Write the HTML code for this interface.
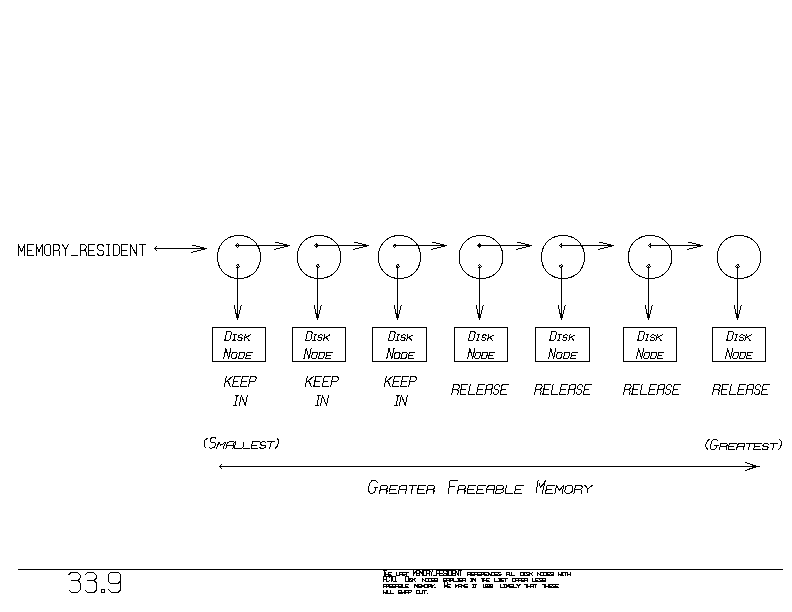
<!DOCTYPE html>
<html><head><meta charset="utf-8"><style>
html,body{margin:0;padding:0;background:#fff;width:792px;height:612px;overflow:hidden}
svg{display:block}
</style></head><body>
<svg width="792" height="612" viewBox="0 0 792 612">
<g fill="none" stroke="#000" stroke-width="1" stroke-linecap="square" stroke-linejoin="bevel" shape-rendering="crispEdges">
<path d="M18.00 569.50 L782.00 569.50"/>
<path d="M18.50 255.50 L18.50 244.50 L21.50 251.65 L24.50 244.50 L24.50 255.50"/>
<path d="M33.29 244.50 L27.29 244.50 L27.29 255.50 L33.29 255.50"/>
<path d="M27.29 250.00 L31.79 250.00"/>
<path d="M36.07 255.50 L36.07 244.50 L39.07 251.65 L42.07 244.50 L42.07 255.50"/>
<path d="M46.36 255.50 L49.36 255.50 L50.86 253.85 L50.86 246.15 L49.36 244.50 L46.36 244.50 L44.86 246.15 L44.86 253.85 L46.36 255.50"/>
<path d="M53.64 255.50 L53.64 244.50 L58.14 244.50 L59.64 246.15 L59.64 248.35 L58.14 250.00 L53.64 250.00"/>
<path d="M58.14 250.00 L59.64 251.65 L59.64 255.50"/>
<path d="M62.43 244.50 L65.43 249.45 L68.43 244.50"/>
<path d="M65.43 249.45 L65.43 255.50"/>
<path d="M71.21 255.50 L77.21 255.50"/>
<path d="M80.00 255.50 L80.00 244.50 L84.50 244.50 L86.00 246.15 L86.00 248.35 L84.50 250.00 L80.00 250.00"/>
<path d="M84.50 250.00 L86.00 251.65 L86.00 255.50"/>
<path d="M94.79 244.50 L88.79 244.50 L88.79 255.50 L94.79 255.50"/>
<path d="M88.79 250.00 L93.29 250.00"/>
<path d="M103.57 246.15 L102.07 244.50 L99.07 244.50 L97.57 246.15 L97.57 248.35 L99.07 250.00 L102.07 250.00 L103.57 251.65 L103.57 253.85 L102.07 255.50 L99.07 255.50 L97.57 253.85"/>
<path d="M106.86 244.50 L109.86 244.50"/>
<path d="M108.36 244.50 L108.36 255.50"/>
<path d="M106.86 255.50 L109.86 255.50"/>
<path d="M113.14 255.50 L113.14 244.50 L117.64 244.50 L119.14 246.15 L119.14 253.85 L117.64 255.50 L113.14 255.50"/>
<path d="M127.93 244.50 L121.93 244.50 L121.93 255.50 L127.93 255.50"/>
<path d="M121.93 250.00 L126.43 250.00"/>
<path d="M130.71 255.50 L130.71 244.50 L136.71 255.50 L136.71 244.50"/>
<path d="M139.50 244.50 L145.50 244.50"/>
<path d="M142.50 244.50 L142.50 255.50"/>
<rect x="155" y="248" width="52" height="1" fill="#000" stroke="none"/>
<path d="M157.00 246.00 L154.50 248.50 L157.00 251.00"/>
<rect x="192" y="245" width="4" height="1" fill="#000" stroke="none"/>
<rect x="196" y="246" width="4" height="1" fill="#000" stroke="none"/>
<rect x="200" y="247" width="4" height="1" fill="#000" stroke="none"/>
<rect x="201" y="249" width="4" height="1" fill="#000" stroke="none"/>
<rect x="197" y="250" width="4" height="1" fill="#000" stroke="none"/>
<rect x="193" y="251" width="4" height="1" fill="#000" stroke="none"/>
<rect x="191" y="252" width="2" height="1" fill="#000" stroke="none"/>
<path d="M260.50 257.00 L260.46 258.60 L260.32 260.09 L260.11 261.53 L259.80 262.93 L259.41 264.29 L258.94 265.61 L258.38 266.89 L257.75 268.11 L257.03 269.28 L256.25 270.40 L255.39 271.46 L254.46 272.46 L253.46 273.39 L252.40 274.25 L251.28 275.03 L250.11 275.75 L248.89 276.38 L247.61 276.94 L246.29 277.41 L244.93 277.80 L243.53 278.11 L242.09 278.32 L240.60 278.46 L239.00 278.50 L237.40 278.46 L235.91 278.32 L234.47 278.11 L233.07 277.80 L231.71 277.41 L230.39 276.94 L229.11 276.38 L227.89 275.75 L226.72 275.03 L225.60 274.25 L224.54 273.39 L223.54 272.46 L222.61 271.46 L221.75 270.40 L220.97 269.28 L220.25 268.11 L219.62 266.89 L219.06 265.61 L218.59 264.29 L218.20 262.93 L217.89 261.53 L217.68 260.09 L217.54 258.60 L217.50 257.00 L217.54 255.40 L217.68 253.91 L217.89 252.47 L218.20 251.07 L218.59 249.71 L219.06 248.39 L219.62 247.11 L220.25 245.89 L220.97 244.72 L221.75 243.60 L222.61 242.54 L223.54 241.54 L224.54 240.61 L225.60 239.75 L226.72 238.97 L227.89 238.25 L229.11 237.62 L230.39 237.06 L231.71 236.59 L233.07 236.20 L234.47 235.89 L235.91 235.68 L237.40 235.54 L239.00 235.50 L240.60 235.54 L242.09 235.68 L243.53 235.89 L244.93 236.20 L246.29 236.59 L247.61 237.06 L248.89 237.62 L250.11 238.25 L251.28 238.97 L252.40 239.75 L253.46 240.61 L254.46 241.54 L255.39 242.54 L256.25 243.60 L257.03 244.72 L257.75 245.89 L258.38 247.11 L258.94 248.39 L259.41 249.71 L259.80 251.07 L260.11 252.47 L260.32 253.91 L260.46 255.40Z"/>
<rect x="237" y="243" width="1" height="1" fill="#000" stroke="none"/>
<rect x="236" y="244" width="1" height="1" fill="#000" stroke="none"/>
<rect x="238" y="244" width="1" height="1" fill="#000" stroke="none"/>
<rect x="235" y="245" width="1" height="1" fill="#000" stroke="none"/>
<rect x="236" y="245" width="1" height="1" fill="#000" stroke="none"/>
<rect x="237" y="245" width="1" height="1" fill="#000" stroke="none"/>
<rect x="236" y="246" width="1" height="1" fill="#000" stroke="none"/>
<rect x="238" y="246" width="1" height="1" fill="#000" stroke="none"/>
<rect x="237" y="247" width="1" height="1" fill="#000" stroke="none"/>
<rect x="237" y="245" width="53" height="1" fill="#000" stroke="none"/>
<rect x="275" y="242" width="4" height="1" fill="#000" stroke="none"/>
<rect x="279" y="243" width="4" height="1" fill="#000" stroke="none"/>
<rect x="283" y="244" width="4" height="1" fill="#000" stroke="none"/>
<rect x="284" y="246" width="4" height="1" fill="#000" stroke="none"/>
<rect x="280" y="247" width="4" height="1" fill="#000" stroke="none"/>
<rect x="276" y="248" width="4" height="1" fill="#000" stroke="none"/>
<rect x="274" y="249" width="2" height="1" fill="#000" stroke="none"/>
<rect x="237" y="264" width="1" height="1" fill="#000" stroke="none"/>
<rect x="238" y="264" width="1" height="1" fill="#000" stroke="none"/>
<rect x="236" y="265" width="1" height="1" fill="#000" stroke="none"/>
<rect x="238" y="265" width="1" height="1" fill="#000" stroke="none"/>
<rect x="237" y="266" width="1" height="1" fill="#000" stroke="none"/>
<rect x="239" y="266" width="1" height="1" fill="#000" stroke="none"/>
<rect x="236" y="267" width="1" height="1" fill="#000" stroke="none"/>
<rect x="237" y="267" width="1" height="1" fill="#000" stroke="none"/>
<rect x="238" y="267" width="1" height="1" fill="#000" stroke="none"/>
<rect x="237" y="268" width="1" height="52" fill="#000" stroke="none"/>
<rect x="234" y="305" width="1" height="4" fill="#000" stroke="none"/>
<rect x="235" y="309" width="1" height="5" fill="#000" stroke="none"/>
<rect x="236" y="313" width="1" height="5" fill="#000" stroke="none"/>
<rect x="241" y="305" width="1" height="1" fill="#000" stroke="none"/>
<rect x="240" y="306" width="1" height="4" fill="#000" stroke="none"/>
<rect x="239" y="310" width="1" height="4" fill="#000" stroke="none"/>
<rect x="238" y="314" width="1" height="4" fill="#000" stroke="none"/>
<path d="M340.80 257.00 L340.76 258.60 L340.62 260.09 L340.40 261.53 L340.09 262.93 L339.70 264.29 L339.22 265.61 L338.66 266.89 L338.02 268.11 L337.29 269.28 L336.50 270.40 L335.63 271.46 L334.69 272.46 L333.68 273.39 L332.61 274.25 L331.48 275.03 L330.29 275.75 L329.05 276.38 L327.76 276.94 L326.43 277.41 L325.05 277.80 L323.64 278.11 L322.18 278.32 L320.67 278.46 L319.05 278.50 L317.43 278.46 L315.92 278.32 L314.46 278.11 L313.05 277.80 L311.67 277.41 L310.34 276.94 L309.05 276.38 L307.81 275.75 L306.62 275.03 L305.49 274.25 L304.42 273.39 L303.41 272.46 L302.47 271.46 L301.60 270.40 L300.81 269.28 L300.08 268.11 L299.44 266.89 L298.88 265.61 L298.40 264.29 L298.01 262.93 L297.70 261.53 L297.48 260.09 L297.34 258.60 L297.30 257.00 L297.34 255.40 L297.48 253.91 L297.70 252.47 L298.01 251.07 L298.40 249.71 L298.88 248.39 L299.44 247.11 L300.08 245.89 L300.81 244.72 L301.60 243.60 L302.47 242.54 L303.41 241.54 L304.42 240.61 L305.49 239.75 L306.62 238.97 L307.81 238.25 L309.05 237.62 L310.34 237.06 L311.67 236.59 L313.05 236.20 L314.46 235.89 L315.92 235.68 L317.43 235.54 L319.05 235.50 L320.67 235.54 L322.18 235.68 L323.64 235.89 L325.05 236.20 L326.43 236.59 L327.76 237.06 L329.05 237.62 L330.29 238.25 L331.48 238.97 L332.61 239.75 L333.68 240.61 L334.69 241.54 L335.63 242.54 L336.50 243.60 L337.29 244.72 L338.02 245.89 L338.66 247.11 L339.22 248.39 L339.70 249.71 L340.09 251.07 L340.40 252.47 L340.62 253.91 L340.76 255.40Z"/>
<rect x="316" y="243" width="1" height="1" fill="#000" stroke="none"/>
<rect x="315" y="244" width="1" height="1" fill="#000" stroke="none"/>
<rect x="316" y="244" width="1" height="1" fill="#000" stroke="none"/>
<rect x="317" y="244" width="1" height="1" fill="#000" stroke="none"/>
<rect x="314" y="245" width="1" height="1" fill="#000" stroke="none"/>
<rect x="316" y="245" width="1" height="1" fill="#000" stroke="none"/>
<rect x="315" y="246" width="1" height="1" fill="#000" stroke="none"/>
<rect x="316" y="246" width="1" height="1" fill="#000" stroke="none"/>
<rect x="317" y="246" width="1" height="1" fill="#000" stroke="none"/>
<rect x="316" y="247" width="1" height="1" fill="#000" stroke="none"/>
<rect x="316" y="245" width="53" height="1" fill="#000" stroke="none"/>
<rect x="354" y="242" width="4" height="1" fill="#000" stroke="none"/>
<rect x="358" y="243" width="4" height="1" fill="#000" stroke="none"/>
<rect x="362" y="244" width="4" height="1" fill="#000" stroke="none"/>
<rect x="363" y="246" width="4" height="1" fill="#000" stroke="none"/>
<rect x="359" y="247" width="4" height="1" fill="#000" stroke="none"/>
<rect x="355" y="248" width="4" height="1" fill="#000" stroke="none"/>
<rect x="353" y="249" width="2" height="1" fill="#000" stroke="none"/>
<rect x="317" y="264" width="1" height="1" fill="#000" stroke="none"/>
<rect x="318" y="264" width="1" height="1" fill="#000" stroke="none"/>
<rect x="316" y="265" width="1" height="1" fill="#000" stroke="none"/>
<rect x="318" y="265" width="1" height="1" fill="#000" stroke="none"/>
<rect x="316" y="266" width="1" height="1" fill="#000" stroke="none"/>
<rect x="317" y="266" width="1" height="1" fill="#000" stroke="none"/>
<rect x="319" y="266" width="1" height="1" fill="#000" stroke="none"/>
<rect x="317" y="267" width="1" height="1" fill="#000" stroke="none"/>
<rect x="318" y="267" width="1" height="1" fill="#000" stroke="none"/>
<rect x="317" y="268" width="1" height="52" fill="#000" stroke="none"/>
<rect x="314" y="305" width="1" height="4" fill="#000" stroke="none"/>
<rect x="315" y="309" width="1" height="5" fill="#000" stroke="none"/>
<rect x="316" y="313" width="1" height="5" fill="#000" stroke="none"/>
<rect x="321" y="305" width="1" height="1" fill="#000" stroke="none"/>
<rect x="320" y="306" width="1" height="4" fill="#000" stroke="none"/>
<rect x="319" y="310" width="1" height="4" fill="#000" stroke="none"/>
<rect x="318" y="314" width="1" height="4" fill="#000" stroke="none"/>
<path d="M420.50 257.00 L420.46 258.60 L420.33 260.09 L420.11 261.53 L419.82 262.93 L419.43 264.29 L418.97 265.61 L418.43 266.89 L417.81 268.11 L417.11 269.28 L416.34 270.40 L415.49 271.46 L414.58 272.46 L413.61 273.39 L412.57 274.25 L411.48 275.03 L410.33 275.75 L409.13 276.38 L407.88 276.94 L406.59 277.41 L405.26 277.80 L403.89 278.11 L402.48 278.32 L401.02 278.46 L399.45 278.50 L397.88 278.46 L396.42 278.32 L395.01 278.11 L393.64 277.80 L392.31 277.41 L391.02 276.94 L389.77 276.38 L388.57 275.75 L387.42 275.03 L386.33 274.25 L385.29 273.39 L384.32 272.46 L383.41 271.46 L382.56 270.40 L381.79 269.28 L381.09 268.11 L380.47 266.89 L379.93 265.61 L379.47 264.29 L379.08 262.93 L378.79 261.53 L378.57 260.09 L378.44 258.60 L378.40 257.00 L378.44 255.40 L378.57 253.91 L378.79 252.47 L379.08 251.07 L379.47 249.71 L379.93 248.39 L380.47 247.11 L381.09 245.89 L381.79 244.72 L382.56 243.60 L383.41 242.54 L384.32 241.54 L385.29 240.61 L386.33 239.75 L387.42 238.97 L388.57 238.25 L389.77 237.62 L391.02 237.06 L392.31 236.59 L393.64 236.20 L395.01 235.89 L396.42 235.68 L397.88 235.54 L399.45 235.50 L401.02 235.54 L402.48 235.68 L403.89 235.89 L405.26 236.20 L406.59 236.59 L407.88 237.06 L409.13 237.62 L410.33 238.25 L411.48 238.97 L412.57 239.75 L413.61 240.61 L414.58 241.54 L415.49 242.54 L416.34 243.60 L417.11 244.72 L417.81 245.89 L418.43 247.11 L418.97 248.39 L419.43 249.71 L419.82 251.07 L420.11 252.47 L420.33 253.91 L420.46 255.40Z"/>
<rect x="394" y="244" width="1" height="1" fill="#000" stroke="none"/>
<rect x="395" y="244" width="1" height="1" fill="#000" stroke="none"/>
<rect x="393" y="245" width="1" height="1" fill="#000" stroke="none"/>
<rect x="394" y="245" width="1" height="1" fill="#000" stroke="none"/>
<rect x="393" y="246" width="1" height="1" fill="#000" stroke="none"/>
<rect x="395" y="246" width="1" height="1" fill="#000" stroke="none"/>
<rect x="394" y="247" width="1" height="1" fill="#000" stroke="none"/>
<rect x="394" y="245" width="53" height="1" fill="#000" stroke="none"/>
<rect x="432" y="242" width="4" height="1" fill="#000" stroke="none"/>
<rect x="436" y="243" width="4" height="1" fill="#000" stroke="none"/>
<rect x="440" y="244" width="4" height="1" fill="#000" stroke="none"/>
<rect x="441" y="246" width="4" height="1" fill="#000" stroke="none"/>
<rect x="437" y="247" width="4" height="1" fill="#000" stroke="none"/>
<rect x="433" y="248" width="4" height="1" fill="#000" stroke="none"/>
<rect x="431" y="249" width="2" height="1" fill="#000" stroke="none"/>
<rect x="397" y="264" width="1" height="1" fill="#000" stroke="none"/>
<rect x="398" y="264" width="1" height="1" fill="#000" stroke="none"/>
<rect x="396" y="265" width="1" height="1" fill="#000" stroke="none"/>
<rect x="398" y="265" width="1" height="1" fill="#000" stroke="none"/>
<rect x="396" y="266" width="1" height="1" fill="#000" stroke="none"/>
<rect x="397" y="266" width="1" height="1" fill="#000" stroke="none"/>
<rect x="399" y="266" width="1" height="1" fill="#000" stroke="none"/>
<rect x="396" y="267" width="1" height="1" fill="#000" stroke="none"/>
<rect x="397" y="267" width="1" height="1" fill="#000" stroke="none"/>
<rect x="398" y="267" width="1" height="1" fill="#000" stroke="none"/>
<rect x="397" y="268" width="1" height="52" fill="#000" stroke="none"/>
<rect x="394" y="305" width="1" height="4" fill="#000" stroke="none"/>
<rect x="395" y="309" width="1" height="5" fill="#000" stroke="none"/>
<rect x="396" y="313" width="1" height="5" fill="#000" stroke="none"/>
<rect x="401" y="305" width="1" height="1" fill="#000" stroke="none"/>
<rect x="400" y="306" width="1" height="4" fill="#000" stroke="none"/>
<rect x="399" y="310" width="1" height="4" fill="#000" stroke="none"/>
<rect x="398" y="314" width="1" height="4" fill="#000" stroke="none"/>
<path d="M502.90 257.00 L502.86 258.60 L502.72 260.09 L502.50 261.53 L502.19 262.93 L501.79 264.29 L501.31 265.61 L500.74 266.89 L500.10 268.11 L499.37 269.28 L498.57 270.40 L497.69 271.46 L496.74 272.46 L495.73 273.39 L494.65 274.25 L493.51 275.03 L492.32 275.75 L491.07 276.38 L489.77 276.94 L488.43 277.41 L487.04 277.80 L485.62 278.11 L484.15 278.32 L482.63 278.46 L481.00 278.50 L479.37 278.46 L477.85 278.32 L476.38 278.11 L474.96 277.80 L473.57 277.41 L472.23 276.94 L470.93 276.38 L469.68 275.75 L468.49 275.03 L467.35 274.25 L466.27 273.39 L465.26 272.46 L464.31 271.46 L463.43 270.40 L462.63 269.28 L461.90 268.11 L461.26 266.89 L460.69 265.61 L460.21 264.29 L459.81 262.93 L459.50 261.53 L459.28 260.09 L459.14 258.60 L459.10 257.00 L459.14 255.40 L459.28 253.91 L459.50 252.47 L459.81 251.07 L460.21 249.71 L460.69 248.39 L461.26 247.11 L461.90 245.89 L462.63 244.72 L463.43 243.60 L464.31 242.54 L465.26 241.54 L466.27 240.61 L467.35 239.75 L468.49 238.97 L469.68 238.25 L470.93 237.62 L472.23 237.06 L473.57 236.59 L474.96 236.20 L476.38 235.89 L477.85 235.68 L479.37 235.54 L481.00 235.50 L482.63 235.54 L484.15 235.68 L485.62 235.89 L487.04 236.20 L488.43 236.59 L489.77 237.06 L491.07 237.62 L492.32 238.25 L493.51 238.97 L494.65 239.75 L495.73 240.61 L496.74 241.54 L497.69 242.54 L498.57 243.60 L499.37 244.72 L500.10 245.89 L500.74 247.11 L501.31 248.39 L501.79 249.71 L502.19 251.07 L502.50 252.47 L502.72 253.91 L502.86 255.40Z"/>
<rect x="479" y="243" width="1" height="1" fill="#000" stroke="none"/>
<rect x="478" y="244" width="1" height="1" fill="#000" stroke="none"/>
<rect x="479" y="244" width="1" height="1" fill="#000" stroke="none"/>
<rect x="480" y="244" width="1" height="1" fill="#000" stroke="none"/>
<rect x="477" y="245" width="1" height="1" fill="#000" stroke="none"/>
<rect x="478" y="245" width="1" height="1" fill="#000" stroke="none"/>
<rect x="479" y="245" width="1" height="1" fill="#000" stroke="none"/>
<rect x="478" y="246" width="1" height="1" fill="#000" stroke="none"/>
<rect x="479" y="246" width="1" height="1" fill="#000" stroke="none"/>
<rect x="480" y="246" width="1" height="1" fill="#000" stroke="none"/>
<rect x="479" y="247" width="1" height="1" fill="#000" stroke="none"/>
<rect x="479" y="245" width="53" height="1" fill="#000" stroke="none"/>
<rect x="517" y="242" width="4" height="1" fill="#000" stroke="none"/>
<rect x="521" y="243" width="4" height="1" fill="#000" stroke="none"/>
<rect x="525" y="244" width="4" height="1" fill="#000" stroke="none"/>
<rect x="526" y="246" width="4" height="1" fill="#000" stroke="none"/>
<rect x="522" y="247" width="4" height="1" fill="#000" stroke="none"/>
<rect x="518" y="248" width="4" height="1" fill="#000" stroke="none"/>
<rect x="516" y="249" width="2" height="1" fill="#000" stroke="none"/>
<rect x="479" y="264" width="1" height="1" fill="#000" stroke="none"/>
<rect x="478" y="265" width="1" height="1" fill="#000" stroke="none"/>
<rect x="480" y="265" width="1" height="1" fill="#000" stroke="none"/>
<rect x="479" y="266" width="1" height="1" fill="#000" stroke="none"/>
<rect x="481" y="266" width="1" height="1" fill="#000" stroke="none"/>
<rect x="478" y="267" width="1" height="1" fill="#000" stroke="none"/>
<rect x="479" y="267" width="1" height="1" fill="#000" stroke="none"/>
<rect x="480" y="267" width="1" height="1" fill="#000" stroke="none"/>
<rect x="479" y="268" width="1" height="52" fill="#000" stroke="none"/>
<rect x="476" y="305" width="1" height="4" fill="#000" stroke="none"/>
<rect x="477" y="309" width="1" height="5" fill="#000" stroke="none"/>
<rect x="478" y="313" width="1" height="5" fill="#000" stroke="none"/>
<rect x="483" y="305" width="1" height="1" fill="#000" stroke="none"/>
<rect x="482" y="306" width="1" height="4" fill="#000" stroke="none"/>
<rect x="481" y="310" width="1" height="4" fill="#000" stroke="none"/>
<rect x="480" y="314" width="1" height="4" fill="#000" stroke="none"/>
<path d="M584.50 257.00 L584.46 258.60 L584.32 260.09 L584.11 261.53 L583.80 262.93 L583.41 264.29 L582.94 265.61 L582.38 266.89 L581.75 268.11 L581.03 269.28 L580.25 270.40 L579.39 271.46 L578.46 272.46 L577.46 273.39 L576.40 274.25 L575.28 275.03 L574.11 275.75 L572.89 276.38 L571.61 276.94 L570.29 277.41 L568.93 277.80 L567.53 278.11 L566.09 278.32 L564.60 278.46 L563.00 278.50 L561.40 278.46 L559.91 278.32 L558.47 278.11 L557.07 277.80 L555.71 277.41 L554.39 276.94 L553.11 276.38 L551.89 275.75 L550.72 275.03 L549.60 274.25 L548.54 273.39 L547.54 272.46 L546.61 271.46 L545.75 270.40 L544.97 269.28 L544.25 268.11 L543.62 266.89 L543.06 265.61 L542.59 264.29 L542.20 262.93 L541.89 261.53 L541.68 260.09 L541.54 258.60 L541.50 257.00 L541.54 255.40 L541.68 253.91 L541.89 252.47 L542.20 251.07 L542.59 249.71 L543.06 248.39 L543.62 247.11 L544.25 245.89 L544.97 244.72 L545.75 243.60 L546.61 242.54 L547.54 241.54 L548.54 240.61 L549.60 239.75 L550.72 238.97 L551.89 238.25 L553.11 237.62 L554.39 237.06 L555.71 236.59 L557.07 236.20 L558.47 235.89 L559.91 235.68 L561.40 235.54 L563.00 235.50 L564.60 235.54 L566.09 235.68 L567.53 235.89 L568.93 236.20 L570.29 236.59 L571.61 237.06 L572.89 237.62 L574.11 238.25 L575.28 238.97 L576.40 239.75 L577.46 240.61 L578.46 241.54 L579.39 242.54 L580.25 243.60 L581.03 244.72 L581.75 245.89 L582.38 247.11 L582.94 248.39 L583.41 249.71 L583.80 251.07 L584.11 252.47 L584.32 253.91 L584.46 255.40Z"/>
<rect x="561" y="243" width="1" height="1" fill="#000" stroke="none"/>
<rect x="560" y="244" width="1" height="1" fill="#000" stroke="none"/>
<rect x="561" y="244" width="1" height="1" fill="#000" stroke="none"/>
<rect x="559" y="245" width="1" height="1" fill="#000" stroke="none"/>
<rect x="560" y="246" width="1" height="1" fill="#000" stroke="none"/>
<rect x="561" y="246" width="1" height="1" fill="#000" stroke="none"/>
<rect x="561" y="247" width="1" height="1" fill="#000" stroke="none"/>
<rect x="561" y="245" width="53" height="1" fill="#000" stroke="none"/>
<rect x="599" y="242" width="4" height="1" fill="#000" stroke="none"/>
<rect x="603" y="243" width="4" height="1" fill="#000" stroke="none"/>
<rect x="607" y="244" width="4" height="1" fill="#000" stroke="none"/>
<rect x="608" y="246" width="4" height="1" fill="#000" stroke="none"/>
<rect x="604" y="247" width="4" height="1" fill="#000" stroke="none"/>
<rect x="600" y="248" width="4" height="1" fill="#000" stroke="none"/>
<rect x="598" y="249" width="2" height="1" fill="#000" stroke="none"/>
<rect x="561" y="264" width="1" height="1" fill="#000" stroke="none"/>
<rect x="559" y="265" width="1" height="1" fill="#000" stroke="none"/>
<rect x="560" y="265" width="1" height="1" fill="#000" stroke="none"/>
<rect x="562" y="265" width="1" height="1" fill="#000" stroke="none"/>
<rect x="559" y="266" width="1" height="1" fill="#000" stroke="none"/>
<rect x="561" y="266" width="1" height="1" fill="#000" stroke="none"/>
<rect x="562" y="266" width="1" height="1" fill="#000" stroke="none"/>
<rect x="560" y="267" width="1" height="1" fill="#000" stroke="none"/>
<rect x="561" y="267" width="1" height="1" fill="#000" stroke="none"/>
<rect x="561" y="268" width="1" height="52" fill="#000" stroke="none"/>
<rect x="558" y="305" width="1" height="4" fill="#000" stroke="none"/>
<rect x="559" y="309" width="1" height="5" fill="#000" stroke="none"/>
<rect x="560" y="313" width="1" height="5" fill="#000" stroke="none"/>
<rect x="565" y="305" width="1" height="1" fill="#000" stroke="none"/>
<rect x="564" y="306" width="1" height="4" fill="#000" stroke="none"/>
<rect x="563" y="310" width="1" height="4" fill="#000" stroke="none"/>
<rect x="562" y="314" width="1" height="4" fill="#000" stroke="none"/>
<path d="M671.90 257.00 L671.86 258.60 L671.72 260.09 L671.50 261.53 L671.19 262.93 L670.80 264.29 L670.32 265.61 L669.76 266.89 L669.12 268.11 L668.39 269.28 L667.60 270.40 L666.73 271.46 L665.79 272.46 L664.78 273.39 L663.71 274.25 L662.58 275.03 L661.39 275.75 L660.15 276.38 L658.86 276.94 L657.53 277.41 L656.15 277.80 L654.74 278.11 L653.28 278.32 L651.77 278.46 L650.15 278.50 L648.53 278.46 L647.02 278.32 L645.56 278.11 L644.15 277.80 L642.77 277.41 L641.44 276.94 L640.15 276.38 L638.91 275.75 L637.72 275.03 L636.59 274.25 L635.52 273.39 L634.51 272.46 L633.57 271.46 L632.70 270.40 L631.91 269.28 L631.18 268.11 L630.54 266.89 L629.98 265.61 L629.50 264.29 L629.11 262.93 L628.80 261.53 L628.58 260.09 L628.44 258.60 L628.40 257.00 L628.44 255.40 L628.58 253.91 L628.80 252.47 L629.11 251.07 L629.50 249.71 L629.98 248.39 L630.54 247.11 L631.18 245.89 L631.91 244.72 L632.70 243.60 L633.57 242.54 L634.51 241.54 L635.52 240.61 L636.59 239.75 L637.72 238.97 L638.91 238.25 L640.15 237.62 L641.44 237.06 L642.77 236.59 L644.15 236.20 L645.56 235.89 L647.02 235.68 L648.53 235.54 L650.15 235.50 L651.77 235.54 L653.28 235.68 L654.74 235.89 L656.15 236.20 L657.53 236.59 L658.86 237.06 L660.15 237.62 L661.39 238.25 L662.58 238.97 L663.71 239.75 L664.78 240.61 L665.79 241.54 L666.73 242.54 L667.60 243.60 L668.39 244.72 L669.12 245.89 L669.76 247.11 L670.32 248.39 L670.80 249.71 L671.19 251.07 L671.50 252.47 L671.72 253.91 L671.86 255.40Z"/>
<rect x="650" y="243" width="1" height="1" fill="#000" stroke="none"/>
<rect x="649" y="244" width="1" height="1" fill="#000" stroke="none"/>
<rect x="650" y="244" width="1" height="1" fill="#000" stroke="none"/>
<rect x="648" y="245" width="1" height="1" fill="#000" stroke="none"/>
<rect x="649" y="246" width="1" height="1" fill="#000" stroke="none"/>
<rect x="650" y="246" width="1" height="1" fill="#000" stroke="none"/>
<rect x="650" y="247" width="1" height="1" fill="#000" stroke="none"/>
<rect x="650" y="245" width="53" height="1" fill="#000" stroke="none"/>
<rect x="688" y="242" width="4" height="1" fill="#000" stroke="none"/>
<rect x="692" y="243" width="4" height="1" fill="#000" stroke="none"/>
<rect x="696" y="244" width="4" height="1" fill="#000" stroke="none"/>
<rect x="697" y="246" width="4" height="1" fill="#000" stroke="none"/>
<rect x="693" y="247" width="4" height="1" fill="#000" stroke="none"/>
<rect x="689" y="248" width="4" height="1" fill="#000" stroke="none"/>
<rect x="687" y="249" width="2" height="1" fill="#000" stroke="none"/>
<rect x="648" y="264" width="1" height="1" fill="#000" stroke="none"/>
<rect x="649" y="264" width="1" height="1" fill="#000" stroke="none"/>
<rect x="647" y="265" width="1" height="1" fill="#000" stroke="none"/>
<rect x="649" y="265" width="1" height="1" fill="#000" stroke="none"/>
<rect x="646" y="266" width="1" height="1" fill="#000" stroke="none"/>
<rect x="648" y="266" width="1" height="1" fill="#000" stroke="none"/>
<rect x="650" y="266" width="1" height="1" fill="#000" stroke="none"/>
<rect x="647" y="267" width="1" height="1" fill="#000" stroke="none"/>
<rect x="648" y="267" width="1" height="1" fill="#000" stroke="none"/>
<rect x="649" y="267" width="1" height="1" fill="#000" stroke="none"/>
<rect x="648" y="268" width="1" height="52" fill="#000" stroke="none"/>
<rect x="645" y="305" width="1" height="4" fill="#000" stroke="none"/>
<rect x="646" y="309" width="1" height="5" fill="#000" stroke="none"/>
<rect x="647" y="313" width="1" height="5" fill="#000" stroke="none"/>
<rect x="652" y="305" width="1" height="1" fill="#000" stroke="none"/>
<rect x="651" y="306" width="1" height="4" fill="#000" stroke="none"/>
<rect x="650" y="310" width="1" height="4" fill="#000" stroke="none"/>
<rect x="649" y="314" width="1" height="4" fill="#000" stroke="none"/>
<path d="M760.80 257.00 L760.76 258.60 L760.62 260.09 L760.40 261.53 L760.09 262.93 L759.70 264.29 L759.22 265.61 L758.66 266.89 L758.02 268.11 L757.29 269.28 L756.50 270.40 L755.63 271.46 L754.69 272.46 L753.68 273.39 L752.61 274.25 L751.48 275.03 L750.29 275.75 L749.05 276.38 L747.76 276.94 L746.43 277.41 L745.05 277.80 L743.64 278.11 L742.18 278.32 L740.67 278.46 L739.05 278.50 L737.43 278.46 L735.92 278.32 L734.46 278.11 L733.05 277.80 L731.67 277.41 L730.34 276.94 L729.05 276.38 L727.81 275.75 L726.62 275.03 L725.49 274.25 L724.42 273.39 L723.41 272.46 L722.47 271.46 L721.60 270.40 L720.81 269.28 L720.08 268.11 L719.44 266.89 L718.88 265.61 L718.40 264.29 L718.01 262.93 L717.70 261.53 L717.48 260.09 L717.34 258.60 L717.30 257.00 L717.34 255.40 L717.48 253.91 L717.70 252.47 L718.01 251.07 L718.40 249.71 L718.88 248.39 L719.44 247.11 L720.08 245.89 L720.81 244.72 L721.60 243.60 L722.47 242.54 L723.41 241.54 L724.42 240.61 L725.49 239.75 L726.62 238.97 L727.81 238.25 L729.05 237.62 L730.34 237.06 L731.67 236.59 L733.05 236.20 L734.46 235.89 L735.92 235.68 L737.43 235.54 L739.05 235.50 L740.67 235.54 L742.18 235.68 L743.64 235.89 L745.05 236.20 L746.43 236.59 L747.76 237.06 L749.05 237.62 L750.29 238.25 L751.48 238.97 L752.61 239.75 L753.68 240.61 L754.69 241.54 L755.63 242.54 L756.50 243.60 L757.29 244.72 L758.02 245.89 L758.66 247.11 L759.22 248.39 L759.70 249.71 L760.09 251.07 L760.40 252.47 L760.62 253.91 L760.76 255.40Z"/>
<rect x="737" y="264" width="1" height="1" fill="#000" stroke="none"/>
<rect x="738" y="264" width="1" height="1" fill="#000" stroke="none"/>
<rect x="736" y="265" width="1" height="1" fill="#000" stroke="none"/>
<rect x="738" y="265" width="1" height="1" fill="#000" stroke="none"/>
<rect x="735" y="266" width="1" height="1" fill="#000" stroke="none"/>
<rect x="737" y="266" width="1" height="1" fill="#000" stroke="none"/>
<rect x="739" y="266" width="1" height="1" fill="#000" stroke="none"/>
<rect x="736" y="267" width="1" height="1" fill="#000" stroke="none"/>
<rect x="737" y="267" width="1" height="1" fill="#000" stroke="none"/>
<rect x="738" y="267" width="1" height="1" fill="#000" stroke="none"/>
<rect x="737" y="268" width="1" height="52" fill="#000" stroke="none"/>
<rect x="734" y="305" width="1" height="4" fill="#000" stroke="none"/>
<rect x="735" y="309" width="1" height="5" fill="#000" stroke="none"/>
<rect x="736" y="313" width="1" height="5" fill="#000" stroke="none"/>
<rect x="741" y="305" width="1" height="1" fill="#000" stroke="none"/>
<rect x="740" y="306" width="1" height="4" fill="#000" stroke="none"/>
<rect x="739" y="310" width="1" height="4" fill="#000" stroke="none"/>
<rect x="738" y="314" width="1" height="4" fill="#000" stroke="none"/>
<rect x="212.5" y="327.5" width="53" height="34"/>
<rect x="292.5" y="327.5" width="53" height="34"/>
<rect x="372.5" y="327.5" width="54" height="34"/>
<rect x="454.5" y="327.5" width="53" height="34"/>
<rect x="535.5" y="327.5" width="54" height="34"/>
<rect x="623.5" y="327.5" width="53" height="34"/>
<rect x="712.5" y="327.5" width="53" height="34"/>
<path d="M224.80 340.50 L226.78 331.50 L230.53 331.50 L231.48 332.85 L230.10 339.15 L228.55 340.50 L224.80 340.50"/>
<path d="M233.76 334.92 L236.26 334.92"/>
<path d="M235.01 334.92 L233.78 340.50"/>
<path d="M232.53 340.50 L235.03 340.50"/>
<path d="M242.80 335.76 L241.99 334.92 L239.99 334.92 L238.80 335.76 L238.56 336.87 L239.37 337.71 L241.37 337.71 L242.19 338.55 L241.94 339.66 L240.76 340.50 L238.76 340.50 L237.94 339.66"/>
<path d="M244.07 340.50 L245.30 334.92"/>
<path d="M250.30 334.92 L244.56 338.27"/>
<path d="M246.48 337.15 L249.07 340.50"/>
<path d="M305.60 340.50 L307.58 331.50 L311.33 331.50 L312.28 332.85 L310.90 339.15 L309.35 340.50 L305.60 340.50"/>
<path d="M314.09 334.92 L316.59 334.92"/>
<path d="M315.34 334.92 L314.11 340.50"/>
<path d="M312.86 340.50 L315.36 340.50"/>
<path d="M322.67 335.76 L321.85 334.92 L319.85 334.92 L318.67 335.76 L318.42 336.87 L319.24 337.71 L321.24 337.71 L322.06 338.55 L321.81 339.66 L320.63 340.50 L318.63 340.50 L317.81 339.66"/>
<path d="M323.47 340.50 L324.70 334.92"/>
<path d="M329.70 334.92 L323.96 338.27"/>
<path d="M325.88 337.15 L328.47 340.50"/>
<path d="M388.50 340.50 L390.48 331.50 L394.23 331.50 L395.18 332.85 L393.80 339.15 L392.25 340.50 L388.50 340.50"/>
<path d="M397.09 334.92 L399.59 334.92"/>
<path d="M398.34 334.92 L397.11 340.50"/>
<path d="M395.86 340.50 L398.36 340.50"/>
<path d="M405.77 335.76 L404.95 334.92 L402.95 334.92 L401.77 335.76 L401.52 336.87 L402.34 337.71 L404.34 337.71 L405.16 338.55 L404.91 339.66 L403.73 340.50 L401.73 340.50 L400.91 339.66"/>
<path d="M406.67 340.50 L407.90 334.92"/>
<path d="M412.90 334.92 L407.16 338.27"/>
<path d="M409.08 337.15 L411.67 340.50"/>
<path d="M468.50 340.50 L470.48 331.50 L474.23 331.50 L475.18 332.85 L473.80 339.15 L472.25 340.50 L468.50 340.50"/>
<path d="M477.39 334.92 L479.89 334.92"/>
<path d="M478.64 334.92 L477.41 340.50"/>
<path d="M476.16 340.50 L478.66 340.50"/>
<path d="M486.37 335.76 L485.55 334.92 L483.55 334.92 L482.37 335.76 L482.12 336.87 L482.94 337.71 L484.94 337.71 L485.76 338.55 L485.51 339.66 L484.33 340.50 L482.33 340.50 L481.51 339.66"/>
<path d="M487.57 340.50 L488.80 334.92"/>
<path d="M493.80 334.92 L488.06 338.27"/>
<path d="M489.98 337.15 L492.57 340.50"/>
<path d="M549.80 340.50 L551.78 331.50 L555.53 331.50 L556.48 332.85 L555.10 339.15 L553.55 340.50 L549.80 340.50"/>
<path d="M558.69 334.92 L561.19 334.92"/>
<path d="M559.94 334.92 L558.71 340.50"/>
<path d="M557.46 340.50 L559.96 340.50"/>
<path d="M567.67 335.76 L566.85 334.92 L564.85 334.92 L563.67 335.76 L563.42 336.87 L564.24 337.71 L566.24 337.71 L567.06 338.55 L566.81 339.66 L565.63 340.50 L563.63 340.50 L562.81 339.66"/>
<path d="M568.87 340.50 L570.10 334.92"/>
<path d="M575.10 334.92 L569.36 338.27"/>
<path d="M571.28 337.15 L573.87 340.50"/>
<path d="M637.80 340.50 L639.78 331.50 L643.53 331.50 L644.48 332.85 L643.10 339.15 L641.55 340.50 L637.80 340.50"/>
<path d="M646.39 334.92 L648.89 334.92"/>
<path d="M647.64 334.92 L646.41 340.50"/>
<path d="M645.16 340.50 L647.66 340.50"/>
<path d="M655.07 335.76 L654.25 334.92 L652.25 334.92 L651.07 335.76 L650.82 336.87 L651.64 337.71 L653.64 337.71 L654.46 338.55 L654.21 339.66 L653.03 340.50 L651.03 340.50 L650.21 339.66"/>
<path d="M655.97 340.50 L657.20 334.92"/>
<path d="M662.20 334.92 L656.46 338.27"/>
<path d="M658.38 337.15 L660.97 340.50"/>
<path d="M726.80 340.50 L728.78 331.50 L732.53 331.50 L733.48 332.85 L732.10 339.15 L730.55 340.50 L726.80 340.50"/>
<path d="M735.39 334.92 L737.89 334.92"/>
<path d="M736.64 334.92 L735.41 340.50"/>
<path d="M734.16 340.50 L736.66 340.50"/>
<path d="M744.07 335.76 L743.25 334.92 L741.25 334.92 L740.07 335.76 L739.82 336.87 L740.64 337.71 L742.64 337.71 L743.46 338.55 L743.21 339.66 L742.03 340.50 L740.03 340.50 L739.21 339.66"/>
<path d="M744.97 340.50 L746.20 334.92"/>
<path d="M751.20 334.92 L745.46 338.27"/>
<path d="M747.38 337.15 L749.97 340.50"/>
<path d="M223.70 358.50 L225.90 348.50 L228.70 358.50 L230.90 348.50"/>
<path d="M232.31 358.50 L234.81 358.50 L236.28 357.54 L237.26 353.06 L236.22 352.10 L233.72 352.10 L232.26 353.06 L231.28 357.54 L232.31 358.50"/>
<path d="M238.43 358.50 L239.84 352.10 L243.59 352.10 L244.62 353.06 L243.64 357.54 L242.18 358.50 L238.43 358.50"/>
<path d="M252.20 352.10 L247.20 352.10 L245.79 358.50 L250.79 358.50"/>
<path d="M246.50 355.30 L250.25 355.30"/>
<path d="M304.00 358.50 L306.20 348.50 L309.00 358.50 L311.20 348.50"/>
<path d="M312.48 358.50 L314.98 358.50 L316.44 357.54 L317.43 353.06 L316.39 352.10 L313.89 352.10 L312.43 353.06 L311.44 357.54 L312.48 358.50"/>
<path d="M318.46 358.50 L319.87 352.10 L323.62 352.10 L324.66 353.06 L323.67 357.54 L322.21 358.50 L318.46 358.50"/>
<path d="M332.10 352.10 L327.10 352.10 L325.69 358.50 L330.69 358.50"/>
<path d="M326.40 355.30 L330.15 355.30"/>
<path d="M386.80 358.50 L389.00 348.50 L391.80 358.50 L394.00 348.50"/>
<path d="M395.15 358.50 L397.65 358.50 L399.11 357.54 L400.09 353.06 L399.06 352.10 L396.56 352.10 L395.09 353.06 L394.11 357.54 L395.15 358.50"/>
<path d="M400.99 358.50 L402.40 352.10 L406.15 352.10 L407.19 353.06 L406.21 357.54 L404.74 358.50 L400.99 358.50"/>
<path d="M414.50 352.10 L409.50 352.10 L408.09 358.50 L413.09 358.50"/>
<path d="M408.80 355.30 L412.55 355.30"/>
<path d="M467.70 358.50 L469.90 348.50 L472.70 358.50 L474.90 348.50"/>
<path d="M475.78 358.50 L478.28 358.50 L479.74 357.54 L480.73 353.06 L479.69 352.10 L477.19 352.10 L475.73 353.06 L474.74 357.54 L475.78 358.50"/>
<path d="M481.36 358.50 L482.77 352.10 L486.52 352.10 L487.56 353.06 L486.57 357.54 L485.11 358.50 L481.36 358.50"/>
<path d="M494.60 352.10 L489.60 352.10 L488.19 358.50 L493.19 358.50"/>
<path d="M488.90 355.30 L492.65 355.30"/>
<path d="M548.60 358.50 L550.80 348.50 L553.60 358.50 L555.80 348.50"/>
<path d="M557.25 358.50 L559.75 358.50 L561.21 357.54 L562.19 353.06 L561.16 352.10 L558.66 352.10 L557.19 353.06 L556.21 357.54 L557.25 358.50"/>
<path d="M563.39 358.50 L564.80 352.10 L568.55 352.10 L569.59 353.06 L568.61 357.54 L567.14 358.50 L563.39 358.50"/>
<path d="M577.20 352.10 L572.20 352.10 L570.79 358.50 L575.79 358.50"/>
<path d="M571.50 355.30 L575.25 355.30"/>
<path d="M636.50 358.50 L638.70 348.50 L641.50 358.50 L643.70 348.50"/>
<path d="M644.75 358.50 L647.25 358.50 L648.71 357.54 L649.69 353.06 L648.66 352.10 L646.16 352.10 L644.69 353.06 L643.71 357.54 L644.75 358.50"/>
<path d="M650.49 358.50 L651.90 352.10 L655.65 352.10 L656.69 353.06 L655.71 357.54 L654.24 358.50 L650.49 358.50"/>
<path d="M663.90 352.10 L658.90 352.10 L657.49 358.50 L662.49 358.50"/>
<path d="M658.20 355.30 L661.95 355.30"/>
<path d="M725.50 358.50 L727.70 348.50 L730.50 358.50 L732.70 348.50"/>
<path d="M733.75 358.50 L736.25 358.50 L737.71 357.54 L738.69 353.06 L737.66 352.10 L735.16 352.10 L733.69 353.06 L732.71 357.54 L733.75 358.50"/>
<path d="M739.49 358.50 L740.90 352.10 L744.65 352.10 L745.69 353.06 L744.71 357.54 L743.24 358.50 L739.49 358.50"/>
<path d="M752.90 352.10 L747.90 352.10 L746.49 358.50 L751.49 358.50"/>
<path d="M747.20 355.30 L750.95 355.30"/>
<path d="M224.40 386.50 L226.40 376.50"/>
<path d="M232.40 376.50 L225.20 382.50"/>
<path d="M227.60 380.50 L230.40 386.50"/>
<path d="M240.47 376.50 L234.47 376.50 L232.47 386.50 L238.47 386.50"/>
<path d="M233.47 381.50 L237.97 381.50"/>
<path d="M248.53 376.50 L242.53 376.50 L240.53 386.50 L246.53 386.50"/>
<path d="M241.53 381.50 L246.03 381.50"/>
<path d="M248.60 386.50 L250.60 376.50 L255.10 376.50 L256.30 378.00 L255.90 380.00 L254.10 381.50 L249.60 381.50"/>
<path d="M305.40 386.50 L307.40 376.50"/>
<path d="M313.40 376.50 L306.20 382.50"/>
<path d="M308.60 380.50 L311.40 386.50"/>
<path d="M321.83 376.50 L315.83 376.50 L313.83 386.50 L319.83 386.50"/>
<path d="M314.83 381.50 L319.33 381.50"/>
<path d="M330.27 376.50 L324.27 376.50 L322.27 386.50 L328.27 386.50"/>
<path d="M323.27 381.50 L327.77 381.50"/>
<path d="M330.70 386.50 L332.70 376.50 L337.20 376.50 L338.40 378.00 L338.00 380.00 L336.20 381.50 L331.70 381.50"/>
<path d="M384.40 386.50 L386.40 376.50"/>
<path d="M392.40 376.50 L385.20 382.50"/>
<path d="M387.60 380.50 L390.40 386.50"/>
<path d="M400.53 376.50 L394.53 376.50 L392.53 386.50 L398.53 386.50"/>
<path d="M393.53 381.50 L398.03 381.50"/>
<path d="M408.67 376.50 L402.67 376.50 L400.67 386.50 L406.67 386.50"/>
<path d="M401.67 381.50 L406.17 381.50"/>
<path d="M408.80 386.50 L410.80 376.50 L415.30 376.50 L416.50 378.00 L416.10 380.00 L414.30 381.50 L409.80 381.50"/>
<path d="M235.70 395.50 L238.70 395.50"/>
<path d="M237.20 395.50 L235.20 405.50"/>
<path d="M233.70 405.50 L236.70 405.50"/>
<path d="M239.40 405.50 L241.40 395.50 L245.40 405.50 L247.40 395.50"/>
<path d="M317.40 395.50 L320.40 395.50"/>
<path d="M318.90 395.50 L316.90 405.50"/>
<path d="M315.40 405.50 L318.40 405.50"/>
<path d="M320.50 405.50 L322.50 395.50 L326.50 405.50 L328.50 395.50"/>
<path d="M396.70 395.50 L399.70 395.50"/>
<path d="M398.20 395.50 L396.20 405.50"/>
<path d="M394.70 405.50 L397.70 405.50"/>
<path d="M399.40 405.50 L401.40 395.50 L405.40 405.50 L407.40 395.50"/>
<path d="M451.70 394.50 L453.70 384.50 L458.20 384.50 L459.40 386.00 L459.00 388.00 L457.20 389.50 L452.70 389.50"/>
<path d="M457.20 389.50 L458.40 391.00 L457.70 394.50"/>
<path d="M467.98 384.50 L461.98 384.50 L459.98 394.50 L465.98 394.50"/>
<path d="M460.98 389.50 L465.48 389.50"/>
<path d="M470.27 384.50 L468.27 394.50 L474.27 394.50"/>
<path d="M484.55 384.50 L478.55 384.50 L476.55 394.50 L482.55 394.50"/>
<path d="M477.55 389.50 L482.05 389.50"/>
<path d="M484.83 394.50 L486.53 386.00 L488.33 384.50 L492.83 384.50 L490.83 394.50"/>
<path d="M485.83 389.50 L491.83 389.50"/>
<path d="M499.62 386.00 L498.72 384.50 L496.32 384.50 L494.82 386.00 L494.42 388.00 L495.32 389.50 L497.72 389.50 L498.62 391.00 L498.22 393.00 L496.72 394.50 L494.32 394.50 L493.42 393.00"/>
<path d="M508.20 384.50 L502.20 384.50 L500.20 394.50 L506.20 394.50"/>
<path d="M501.20 389.50 L505.70 389.50"/>
<path d="M534.50 394.50 L536.50 384.50 L541.00 384.50 L542.20 386.00 L541.80 388.00 L540.00 389.50 L535.50 389.50"/>
<path d="M540.00 389.50 L541.20 391.00 L540.50 394.50"/>
<path d="M550.83 384.50 L544.83 384.50 L542.83 394.50 L548.83 394.50"/>
<path d="M543.83 389.50 L548.33 389.50"/>
<path d="M553.17 384.50 L551.17 394.50 L557.17 394.50"/>
<path d="M567.50 384.50 L561.50 384.50 L559.50 394.50 L565.50 394.50"/>
<path d="M560.50 389.50 L565.00 389.50"/>
<path d="M567.83 394.50 L569.53 386.00 L571.33 384.50 L575.83 384.50 L573.83 394.50"/>
<path d="M568.83 389.50 L574.83 389.50"/>
<path d="M582.67 386.00 L581.77 384.50 L579.37 384.50 L577.87 386.00 L577.47 388.00 L578.37 389.50 L580.77 389.50 L581.67 391.00 L581.27 393.00 L579.77 394.50 L577.37 394.50 L576.47 393.00"/>
<path d="M591.30 384.50 L585.30 384.50 L583.30 394.50 L589.30 394.50"/>
<path d="M584.30 389.50 L588.80 389.50"/>
<path d="M623.50 394.50 L625.50 384.50 L630.00 384.50 L631.20 386.00 L630.80 388.00 L629.00 389.50 L624.50 389.50"/>
<path d="M629.00 389.50 L630.20 391.00 L629.50 394.50"/>
<path d="M639.83 384.50 L633.83 384.50 L631.83 394.50 L637.83 394.50"/>
<path d="M632.83 389.50 L637.33 389.50"/>
<path d="M642.17 384.50 L640.17 394.50 L646.17 394.50"/>
<path d="M656.50 384.50 L650.50 384.50 L648.50 394.50 L654.50 394.50"/>
<path d="M649.50 389.50 L654.00 389.50"/>
<path d="M656.83 394.50 L658.53 386.00 L660.33 384.50 L664.83 384.50 L662.83 394.50"/>
<path d="M657.83 389.50 L663.83 389.50"/>
<path d="M671.67 386.00 L670.77 384.50 L668.37 384.50 L666.87 386.00 L666.47 388.00 L667.37 389.50 L669.77 389.50 L670.67 391.00 L670.27 393.00 L668.77 394.50 L666.37 394.50 L665.47 393.00"/>
<path d="M680.30 384.50 L674.30 384.50 L672.30 394.50 L678.30 394.50"/>
<path d="M673.30 389.50 L677.80 389.50"/>
<path d="M712.60 394.50 L714.60 384.50 L719.10 384.50 L720.30 386.00 L719.90 388.00 L718.10 389.50 L713.60 389.50"/>
<path d="M718.10 389.50 L719.30 391.00 L718.60 394.50"/>
<path d="M728.93 384.50 L722.93 384.50 L720.93 394.50 L726.93 394.50"/>
<path d="M721.93 389.50 L726.43 389.50"/>
<path d="M731.27 384.50 L729.27 394.50 L735.27 394.50"/>
<path d="M745.60 384.50 L739.60 384.50 L737.60 394.50 L743.60 394.50"/>
<path d="M738.60 389.50 L743.10 389.50"/>
<path d="M745.93 394.50 L747.63 386.00 L749.43 384.50 L753.93 384.50 L751.93 394.50"/>
<path d="M746.93 389.50 L752.93 389.50"/>
<path d="M760.77 386.00 L759.87 384.50 L757.47 384.50 L755.97 386.00 L755.57 388.00 L756.47 389.50 L758.87 389.50 L759.77 391.00 L759.37 393.00 L757.87 394.50 L755.47 394.50 L754.57 393.00"/>
<path d="M769.40 384.50 L763.40 384.50 L761.40 394.50 L767.40 394.50"/>
<path d="M762.40 389.50 L766.90 389.50"/>
<path d="M207.50 438.20 L204.60 440.50 L204.40 445.50 L205.50 447.60"/>
<path d="M215.80 438.80 L215.60 437.30 L212.50 437.30 L211.10 438.50 L210.50 439.50 L210.50 441.40 L211.20 442.40 L214.70 442.40 L215.30 443.50 L215.30 445.80 L213.80 447.80 L210.50 448.20 L209.30 447.40"/>
<path d="M216.50 448.20 L219.03 441.94 L220.80 445.38 L225.93 441.94 L223.17 448.20"/>
<path d="M226.00 448.20 L227.17 442.88 L229.10 441.94 L234.28 441.94 L232.90 448.20"/>
<path d="M226.69 445.07 L233.59 445.07"/>
<path d="M235.73 441.94 L234.35 448.20 L241.25 448.20"/>
<path d="M244.08 441.94 L242.70 448.20 L249.60 448.20"/>
<path d="M259.33 441.94 L252.43 441.94 L251.05 448.20 L257.95 448.20"/>
<path d="M251.74 445.07 L256.92 445.07"/>
<path d="M266.09 442.88 L264.92 441.94 L262.16 441.94 L260.57 442.88 L260.30 444.13 L261.47 445.07 L264.23 445.07 L265.40 446.01 L265.13 447.26 L263.54 448.20 L260.78 448.20 L259.61 447.26"/>
<path d="M267.75 441.94 L274.65 441.94"/>
<path d="M271.20 441.94 L269.82 448.20"/>
<path d="M276.94 438.10 L278.50 440.12 L278.33 443.15 L277.17 446.18 L275.22 448.20"/>
<path d="M709.30 439.20 L706.50 442.40 L705.20 445.70 L706.50 447.50 L707.50 449.30"/>
<path d="M717.50 440.50 L716.70 439.30 L713.50 439.30 L712.30 440.40 L711.40 441.50 L710.50 448.20 L711.40 449.40 L714.40 449.40 L715.90 448.40 L716.50 445.50"/>
<path d="M714.70 445.50 L718.50 445.50"/>
<path d="M719.50 449.70 L720.86 443.50 L726.04 443.50 L727.56 444.43 L727.29 445.67 L725.36 446.60 L720.18 446.60"/>
<path d="M725.36 446.60 L726.88 447.53 L726.40 449.70"/>
<path d="M736.28 443.50 L729.38 443.50 L728.02 449.70 L734.92 449.70"/>
<path d="M728.70 446.60 L733.87 446.60"/>
<path d="M736.53 449.70 L737.69 444.43 L739.62 443.50 L744.80 443.50 L743.43 449.70"/>
<path d="M737.22 446.60 L744.12 446.60"/>
<path d="M746.42 443.50 L753.32 443.50"/>
<path d="M749.87 443.50 L748.50 449.70"/>
<path d="M761.83 443.50 L754.93 443.50 L753.57 449.70 L760.47 449.70"/>
<path d="M754.25 446.60 L759.43 446.60"/>
<path d="M768.77 444.43 L767.59 443.50 L764.83 443.50 L763.25 444.43 L762.97 445.67 L764.15 446.60 L766.91 446.60 L768.08 447.53 L767.81 448.77 L766.23 449.70 L763.47 449.70 L762.29 448.77"/>
<path d="M770.59 443.50 L777.49 443.50"/>
<path d="M774.04 443.50 L772.67 449.70"/>
<path d="M779.94 439.70 L781.50 441.70 L781.34 444.70 L780.18 447.70 L778.24 449.70"/>
<path d="M219.50 466.50 L759.50 466.50"/>
<path d="M221.70 464.30 L219.50 466.50 L221.70 468.70"/>
<path d="M745.20 462.50 L757.00 466.50 L745.20 470.50"/>
<path d="M377.60 482.60 L375.50 480.30 L372.20 480.30 L370.30 482.60 L369.30 484.50 L368.50 490.10 L369.60 493.00 L373.20 493.00 L374.70 491.70 L375.80 488.40"/>
<path d="M374.30 487.50 L377.80 487.50"/>
<path d="M379.50 493.10 L381.03 485.47 L386.43 485.47 L388.00 486.62 L387.69 488.14 L385.66 489.29 L380.26 489.29"/>
<path d="M385.66 489.29 L387.23 490.43 L386.70 493.10"/>
<path d="M397.63 485.47 L390.43 485.47 L388.90 493.10 L396.10 493.10"/>
<path d="M389.66 489.29 L395.06 489.29"/>
<path d="M398.30 493.10 L399.60 486.62 L401.63 485.47 L407.03 485.47 L405.50 493.10"/>
<path d="M399.06 489.29 L406.26 489.29"/>
<path d="M409.23 485.47 L416.43 485.47"/>
<path d="M412.83 485.47 L411.30 493.10"/>
<path d="M425.83 485.47 L418.63 485.47 L417.10 493.10 L424.30 493.10"/>
<path d="M417.87 489.29 L423.27 489.29"/>
<path d="M426.50 493.10 L428.03 485.47 L433.43 485.47 L435.00 486.62 L434.69 488.14 L432.67 489.29 L427.27 489.29"/>
<path d="M432.67 489.29 L434.24 490.43 L433.70 493.10"/>
<path d="M457.80 480.50 L450.10 480.50 L449.40 484.00 L449.10 487.50"/>
<path d="M449.30 486.50 L454.70 486.50"/>
<path d="M448.50 488.50 L448.30 493.50"/>
<path d="M457.50 493.10 L459.03 485.47 L464.43 485.47 L466.00 486.62 L465.69 488.14 L463.66 489.29 L458.26 489.29"/>
<path d="M463.66 489.29 L465.23 490.43 L464.70 493.10"/>
<path d="M475.74 485.47 L468.54 485.47 L467.01 493.10 L474.21 493.10"/>
<path d="M467.78 489.29 L473.18 489.29"/>
<path d="M485.25 485.47 L478.05 485.47 L476.52 493.10 L483.72 493.10"/>
<path d="M477.29 489.29 L482.69 489.29"/>
<path d="M486.04 493.10 L487.33 486.62 L489.36 485.47 L494.76 485.47 L493.24 493.10"/>
<path d="M486.80 489.29 L494.00 489.29"/>
<path d="M495.55 493.10 L497.08 485.47 L502.48 485.47 L504.05 486.62 L503.74 488.14 L501.71 489.29 L496.31 489.29"/>
<path d="M501.71 489.29 L503.28 490.43 L502.98 491.96 L500.95 493.10 L495.55 493.10"/>
<path d="M506.59 485.47 L505.06 493.10 L512.26 493.10"/>
<path d="M523.30 485.47 L516.10 485.47 L514.57 493.10 L521.77 493.10"/>
<path d="M515.34 489.29 L520.74 489.29"/>
<path d="M536.30 492.80 L536.60 487.80 L537.20 486.50 L537.50 482.50 L538.30 480.50"/>
<path d="M538.90 483.00 L540.50 487.50 L544.50 482.50 L545.40 480.50 L542.30 493.00"/>
<path d="M554.23 485.47 L547.03 485.47 L545.50 493.10 L552.70 493.10"/>
<path d="M546.26 489.29 L551.66 489.29"/>
<path d="M554.99 493.10 L556.52 485.47 L559.13 490.43 L563.72 485.47 L562.19 493.10"/>
<path d="M566.29 493.10 L569.89 493.10 L571.92 491.96 L572.98 486.62 L571.41 485.47 L567.81 485.47 L565.78 486.62 L564.72 491.96 L566.29 493.10"/>
<path d="M573.98 493.10 L575.51 485.47 L580.91 485.47 L582.48 486.62 L582.17 488.14 L580.14 489.29 L574.74 489.29"/>
<path d="M580.14 489.29 L581.71 490.43 L581.18 493.10"/>
<path d="M585.00 485.47 L587.91 488.91 L592.20 485.47"/>
<path d="M587.91 488.91 L587.07 493.10"/>
<path d="M68.80 574.80 L70.80 572.80 L77.80 572.80 L80.30 575.30 L80.30 578.00 L78.00 580.50 L71.50 580.50"/>
<path d="M78.00 580.50 L80.50 583.30 L80.50 589.80 L77.80 592.50 L71.30 592.50 L69.00 590.20"/>
<path d="M85.00 574.80 L87.00 572.80 L94.00 572.80 L96.50 575.30 L96.50 578.00 L94.20 580.50 L87.70 580.50"/>
<path d="M94.20 580.50 L96.70 583.30 L96.70 589.80 L94.00 592.50 L87.50 592.50 L85.20 590.20"/>
<path d="M101.50 589.50 L104.50 589.50 L104.50 592.50 L101.50 592.50Z"/>
<path d="M108.50 589.30 L111.30 592.50 L118.00 592.50 L120.50 590.00 L120.50 574.50 L118.30 572.50 L110.50 572.50 L108.50 574.50 L108.50 581.30 L110.50 583.50 L118.00 583.50 L120.50 581.00"/>
<g>
<path d="M383.00 570.50 L386.00 570.50"/>
<path d="M384.50 570.50 L384.50 575.50"/>
<path d="M385.55 575.50 L385.55 572.50"/>
<path d="M388.55 575.50 L388.55 572.50"/>
<path d="M385.55 574.00 L388.55 574.00"/>
<path d="M391.10 572.50 L388.10 572.50 L388.10 575.50 L391.10 575.50"/>
<path d="M388.10 574.00 L390.35 574.00"/>
<path d="M396.30 572.50 L396.30 575.50 L399.30 575.50"/>
<path d="M399.27 575.50 L399.27 572.95 L400.02 572.50 L402.27 572.50 L402.27 575.50"/>
<path d="M399.27 574.00 L402.27 574.00"/>
<path d="M405.23 572.95 L404.48 572.50 L402.98 572.50 L402.23 572.95 L402.23 573.55 L402.98 574.00 L404.48 574.00 L405.23 574.45 L405.23 575.05 L404.48 575.50 L402.98 575.50 L402.23 575.05"/>
<path d="M405.20 572.50 L408.20 572.50"/>
<path d="M406.70 572.50 L406.70 575.50"/>
<path d="M413.30 575.50 L413.30 570.50 L414.80 573.75 L416.30 570.50 L416.30 575.50"/>
<path d="M419.62 570.50 L416.62 570.50 L416.62 575.50 L419.62 575.50"/>
<path d="M416.62 573.00 L418.87 573.00"/>
<path d="M419.94 575.50 L419.94 570.50 L421.44 573.75 L422.94 570.50 L422.94 575.50"/>
<path d="M424.01 575.50 L425.51 575.50 L426.26 574.75 L426.26 571.25 L425.51 570.50 L424.01 570.50 L423.26 571.25 L423.26 574.75 L424.01 575.50"/>
<path d="M426.59 575.50 L426.59 570.50 L428.84 570.50 L429.59 571.25 L429.59 572.25 L428.84 573.00 L426.59 573.00"/>
<path d="M428.84 573.00 L429.59 573.75 L429.59 575.50"/>
<path d="M429.91 570.50 L431.41 572.75 L432.91 570.50"/>
<path d="M431.41 572.75 L431.41 575.50"/>
<path d="M433.23 575.50 L436.23 575.50"/>
<path d="M436.55 575.50 L436.55 570.50 L438.80 570.50 L439.55 571.25 L439.55 572.25 L438.80 573.00 L436.55 573.00"/>
<path d="M438.80 573.00 L439.55 573.75 L439.55 575.50"/>
<path d="M442.87 570.50 L439.87 570.50 L439.87 575.50 L442.87 575.50"/>
<path d="M439.87 573.00 L442.12 573.00"/>
<path d="M446.19 571.25 L445.44 570.50 L443.94 570.50 L443.19 571.25 L443.19 572.25 L443.94 573.00 L445.44 573.00 L446.19 573.75 L446.19 574.75 L445.44 575.50 L443.94 575.50 L443.19 574.75"/>
<path d="M446.76 570.50 L448.26 570.50"/>
<path d="M447.51 570.50 L447.51 575.50"/>
<path d="M446.76 575.50 L448.26 575.50"/>
<path d="M448.84 575.50 L448.84 570.50 L451.09 570.50 L451.84 571.25 L451.84 574.75 L451.09 575.50 L448.84 575.50"/>
<path d="M455.16 570.50 L452.16 570.50 L452.16 575.50 L455.16 575.50"/>
<path d="M452.16 573.00 L454.41 573.00"/>
<path d="M455.48 575.50 L455.48 570.50 L458.48 575.50 L458.48 570.50"/>
<path d="M458.80 570.50 L461.80 570.50"/>
<path d="M460.30 570.50 L460.30 575.50"/>
<path d="M467.80 575.50 L467.80 572.50 L470.05 572.50 L470.80 572.95 L470.80 573.55 L470.05 574.00 L467.80 574.00"/>
<path d="M470.05 574.00 L470.80 574.45 L470.80 575.50"/>
<path d="M474.18 572.50 L471.18 572.50 L471.18 575.50 L474.18 575.50"/>
<path d="M471.18 574.00 L473.43 574.00"/>
<path d="M477.56 572.50 L474.56 572.50 L474.56 575.50"/>
<path d="M474.56 574.00 L476.81 574.00"/>
<path d="M480.93 572.50 L477.93 572.50 L477.93 575.50 L480.93 575.50"/>
<path d="M477.93 574.00 L480.18 574.00"/>
<path d="M481.31 575.50 L481.31 572.50 L483.56 572.50 L484.31 572.95 L484.31 573.55 L483.56 574.00 L481.31 574.00"/>
<path d="M483.56 574.00 L484.31 574.45 L484.31 575.50"/>
<path d="M487.69 572.50 L484.69 572.50 L484.69 575.50 L487.69 575.50"/>
<path d="M484.69 574.00 L486.94 574.00"/>
<path d="M488.07 575.50 L488.07 572.50 L491.07 575.50 L491.07 572.50"/>
<path d="M494.44 572.95 L493.69 572.50 L492.19 572.50 L491.44 572.95 L491.44 575.05 L492.19 575.50 L493.69 575.50 L494.44 575.05"/>
<path d="M497.82 572.50 L494.82 572.50 L494.82 575.50 L497.82 575.50"/>
<path d="M494.82 574.00 L497.07 574.00"/>
<path d="M501.20 572.95 L500.45 572.50 L498.95 572.50 L498.20 572.95 L498.20 573.55 L498.95 574.00 L500.45 574.00 L501.20 574.45 L501.20 575.05 L500.45 575.50 L498.95 575.50 L498.20 575.05"/>
<path d="M506.70 575.50 L506.70 572.95 L507.45 572.50 L509.70 572.50 L509.70 575.50"/>
<path d="M506.70 574.00 L509.70 574.00"/>
<path d="M509.10 572.50 L509.10 575.50 L512.10 575.50"/>
<path d="M511.50 572.50 L511.50 575.50 L514.50 575.50"/>
<path d="M520.60 575.50 L520.60 572.50 L522.85 572.50 L523.60 572.95 L523.60 575.05 L522.85 575.50 L520.60 575.50"/>
<path d="M524.22 572.50 L525.72 572.50"/>
<path d="M524.97 572.50 L524.97 575.50"/>
<path d="M524.22 575.50 L525.72 575.50"/>
<path d="M529.33 572.95 L528.58 572.50 L527.08 572.50 L526.33 572.95 L526.33 573.55 L527.08 574.00 L528.58 574.00 L529.33 574.45 L529.33 575.05 L528.58 575.50 L527.08 575.50 L526.33 575.05"/>
<path d="M529.70 575.50 L529.70 572.50"/>
<path d="M532.70 572.50 L529.70 574.30"/>
<path d="M530.70 573.70 L532.70 575.50"/>
<path d="M537.30 575.50 L537.30 572.50 L540.30 575.50 L540.30 572.50"/>
<path d="M541.32 575.50 L542.82 575.50 L543.57 575.05 L543.57 572.95 L542.82 572.50 L541.32 572.50 L540.57 572.95 L540.57 575.05 L541.32 575.50"/>
<path d="M543.85 575.50 L543.85 572.50 L546.10 572.50 L546.85 572.95 L546.85 575.05 L546.10 575.50 L543.85 575.50"/>
<path d="M550.12 572.50 L547.12 572.50 L547.12 575.50 L550.12 575.50"/>
<path d="M547.12 574.00 L549.38 574.00"/>
<path d="M553.40 572.95 L552.65 572.50 L551.15 572.50 L550.40 572.95 L550.40 573.55 L551.15 574.00 L552.65 574.00 L553.40 574.45 L553.40 575.05 L552.65 575.50 L551.15 575.50 L550.40 575.05"/>
<path d="M558.00 572.50 L558.00 575.50 L559.50 574.00 L561.00 575.50 L561.00 572.50"/>
<path d="M561.62 572.50 L563.12 572.50"/>
<path d="M562.37 572.50 L562.37 575.50"/>
<path d="M561.62 575.50 L563.12 575.50"/>
<path d="M563.73 572.50 L566.73 572.50"/>
<path d="M565.23 572.50 L565.23 575.50"/>
<path d="M567.10 575.50 L567.10 572.50"/>
<path d="M570.10 575.50 L570.10 572.50"/>
<path d="M567.10 574.00 L570.10 574.00"/>
<path d="M383.00 581.50 L383.00 577.25 L383.75 576.50 L386.00 576.50 L386.00 581.50"/>
<path d="M383.00 579.00 L386.00 579.00"/>
<path d="M389.25 577.25 L388.50 576.50 L387.00 576.50 L386.25 577.25 L386.25 580.75 L387.00 581.50 L388.50 581.50 L389.25 580.75"/>
<path d="M389.50 576.50 L392.50 576.50"/>
<path d="M391.00 576.50 L391.00 581.50"/>
<path d="M393.50 581.50 L395.00 581.50 L395.75 580.75 L395.75 577.25 L395.00 576.50 L393.50 576.50 L392.75 577.25 L392.75 580.75 L393.50 581.50"/>
<path d="M396.00 581.50 L396.50 581.50 L396.50 581.00 L396.00 581.00 L396.00 581.50"/>
<path d="M405.80 581.50 L405.80 576.50 L408.05 576.50 L408.80 577.25 L408.80 580.75 L408.05 581.50 L405.80 581.50"/>
<path d="M408.58 578.50 L410.08 578.50"/>
<path d="M409.33 578.50 L409.33 581.50"/>
<path d="M408.58 581.50 L410.08 581.50"/>
<path d="M412.87 578.95 L412.12 578.50 L410.62 578.50 L409.87 578.95 L409.87 579.55 L410.62 580.00 L412.12 580.00 L412.87 580.45 L412.87 581.05 L412.12 581.50 L410.62 581.50 L409.87 581.05"/>
<path d="M412.40 581.50 L412.40 578.50"/>
<path d="M415.40 578.50 L412.40 580.30"/>
<path d="M413.40 579.70 L415.40 581.50"/>
<path d="M422.40 581.50 L422.40 578.50 L425.40 581.50 L425.40 578.50"/>
<path d="M426.17 581.50 L427.67 581.50 L428.42 581.05 L428.42 578.95 L427.67 578.50 L426.17 578.50 L425.42 578.95 L425.42 581.05 L426.17 581.50"/>
<path d="M428.45 581.50 L428.45 578.50 L430.70 578.50 L431.45 578.95 L431.45 581.05 L430.70 581.50 L428.45 581.50"/>
<path d="M434.48 578.50 L431.48 578.50 L431.48 581.50 L434.48 581.50"/>
<path d="M431.48 580.00 L433.73 580.00"/>
<path d="M437.50 578.95 L436.75 578.50 L435.25 578.50 L434.50 578.95 L434.50 579.55 L435.25 580.00 L436.75 580.00 L437.50 580.45 L437.50 581.05 L436.75 581.50 L435.25 581.50 L434.50 581.05"/>
<path d="M446.50 578.50 L443.50 578.50 L443.50 581.50 L446.50 581.50"/>
<path d="M443.50 580.00 L445.75 580.00"/>
<path d="M446.88 581.50 L446.88 578.95 L447.63 578.50 L449.88 578.50 L449.88 581.50"/>
<path d="M446.88 580.00 L449.88 580.00"/>
<path d="M450.27 581.50 L450.27 578.50 L452.52 578.50 L453.27 578.95 L453.27 579.55 L452.52 580.00 L450.27 580.00"/>
<path d="M452.52 580.00 L453.27 580.45 L453.27 581.50"/>
<path d="M453.65 578.50 L453.65 581.50 L456.65 581.50"/>
<path d="M457.28 578.50 L458.78 578.50"/>
<path d="M458.03 578.50 L458.03 581.50"/>
<path d="M457.28 581.50 L458.78 581.50"/>
<path d="M462.42 578.50 L459.42 578.50 L459.42 581.50 L462.42 581.50"/>
<path d="M459.42 580.00 L461.67 580.00"/>
<path d="M462.80 581.50 L462.80 578.50 L465.05 578.50 L465.80 578.95 L465.80 579.55 L465.05 580.00 L462.80 580.00"/>
<path d="M465.05 580.00 L465.80 580.45 L465.80 581.50"/>
<path d="M470.30 578.50 L471.80 578.50"/>
<path d="M471.05 578.50 L471.05 581.50"/>
<path d="M470.30 581.50 L471.80 581.50"/>
<path d="M472.90 581.50 L472.90 578.50 L475.90 581.50 L475.90 578.50"/>
<path d="M481.00 578.50 L484.00 578.50"/>
<path d="M482.50 578.50 L482.50 581.50"/>
<path d="M483.75 581.50 L483.75 578.50"/>
<path d="M486.75 581.50 L486.75 578.50"/>
<path d="M483.75 580.00 L486.75 580.00"/>
<path d="M489.50 578.50 L486.50 578.50 L486.50 581.50 L489.50 581.50"/>
<path d="M486.50 580.00 L488.75 580.00"/>
<path d="M494.50 578.50 L494.50 581.50 L497.50 581.50"/>
<path d="M498.32 578.50 L499.82 578.50"/>
<path d="M499.07 578.50 L499.07 581.50"/>
<path d="M498.32 581.50 L499.82 581.50"/>
<path d="M503.63 578.95 L502.88 578.50 L501.38 578.50 L500.63 578.95 L500.63 579.55 L501.38 580.00 L502.88 580.00 L503.63 580.45 L503.63 581.05 L502.88 581.50 L501.38 581.50 L500.63 581.05"/>
<path d="M504.20 578.50 L507.20 578.50"/>
<path d="M505.70 578.50 L505.70 581.50"/>
<path d="M513.05 581.50 L514.55 581.50 L515.30 581.05 L515.30 578.95 L514.55 578.50 L513.05 578.50 L512.30 578.95 L512.30 581.05 L513.05 581.50"/>
<path d="M518.40 578.50 L515.40 578.50 L515.40 581.50"/>
<path d="M515.40 580.00 L517.65 580.00"/>
<path d="M521.50 578.50 L518.50 578.50 L518.50 581.50"/>
<path d="M518.50 580.00 L520.75 580.00"/>
<path d="M524.60 578.50 L521.60 578.50 L521.60 581.50 L524.60 581.50"/>
<path d="M521.60 580.00 L523.85 580.00"/>
<path d="M524.70 581.50 L524.70 578.50 L526.95 578.50 L527.70 578.95 L527.70 579.55 L526.95 580.00 L524.70 580.00"/>
<path d="M526.95 580.00 L527.70 580.45 L527.70 581.50"/>
<path d="M532.20 578.50 L532.20 581.50 L535.20 581.50"/>
<path d="M538.60 578.50 L535.60 578.50 L535.60 581.50 L538.60 581.50"/>
<path d="M535.60 580.00 L537.85 580.00"/>
<path d="M542.00 578.95 L541.25 578.50 L539.75 578.50 L539.00 578.95 L539.00 579.55 L539.75 580.00 L541.25 580.00 L542.00 580.45 L542.00 581.05 L541.25 581.50 L539.75 581.50 L539.00 581.05"/>
<path d="M545.40 578.95 L544.65 578.50 L543.15 578.50 L542.40 578.95 L542.40 579.55 L543.15 580.00 L544.65 580.00 L545.40 580.45 L545.40 581.05 L544.65 581.50 L543.15 581.50 L542.40 581.05"/>
<path d="M386.00 584.50 L383.00 584.50 L383.00 587.50"/>
<path d="M383.00 586.00 L385.25 586.00"/>
<path d="M386.17 587.50 L386.17 584.50 L388.42 584.50 L389.17 584.95 L389.17 585.55 L388.42 586.00 L386.17 586.00"/>
<path d="M388.42 586.00 L389.17 586.45 L389.17 587.50"/>
<path d="M392.34 584.50 L389.34 584.50 L389.34 587.50 L392.34 587.50"/>
<path d="M389.34 586.00 L391.59 586.00"/>
<path d="M395.51 584.50 L392.51 584.50 L392.51 587.50 L395.51 587.50"/>
<path d="M392.51 586.00 L394.76 586.00"/>
<path d="M395.69 587.50 L395.69 584.95 L396.44 584.50 L398.69 584.50 L398.69 587.50"/>
<path d="M395.69 586.00 L398.69 586.00"/>
<path d="M398.86 587.50 L398.86 584.50 L401.11 584.50 L401.86 584.95 L401.86 585.55 L401.11 586.00 L398.86 586.00"/>
<path d="M401.11 586.00 L401.86 586.45 L401.86 587.05 L401.11 587.50 L398.86 587.50"/>
<path d="M402.03 584.50 L402.03 587.50 L405.03 587.50"/>
<path d="M408.20 584.50 L405.20 584.50 L405.20 587.50 L408.20 587.50"/>
<path d="M405.20 586.00 L407.45 586.00"/>
<path d="M414.90 587.50 L414.90 584.50 L416.40 586.45 L417.90 584.50 L417.90 587.50"/>
<path d="M421.18 584.50 L418.18 584.50 L418.18 587.50 L421.18 587.50"/>
<path d="M418.18 586.00 L420.43 586.00"/>
<path d="M421.47 587.50 L421.47 584.50 L422.97 586.45 L424.47 584.50 L424.47 587.50"/>
<path d="M425.50 587.50 L427.00 587.50 L427.75 587.05 L427.75 584.95 L427.00 584.50 L425.50 584.50 L424.75 584.95 L424.75 587.05 L425.50 587.50"/>
<path d="M428.03 587.50 L428.03 584.50 L430.28 584.50 L431.03 584.95 L431.03 585.55 L430.28 586.00 L428.03 586.00"/>
<path d="M430.28 586.00 L431.03 586.45 L431.03 587.50"/>
<path d="M431.32 584.50 L432.82 585.85 L434.32 584.50"/>
<path d="M432.82 585.85 L432.82 587.50"/>
<path d="M434.60 587.50 L435.10 587.50 L435.10 587.00 L434.60 587.00 L434.60 587.50"/>
<path d="M444.50 582.50 L444.50 587.50 L446.00 585.00 L447.50 587.50 L447.50 582.50"/>
<path d="M450.70 584.50 L447.70 584.50 L447.70 587.50 L450.70 587.50"/>
<path d="M447.70 586.00 L449.95 586.00"/>
<path d="M455.20 587.50 L455.20 584.50 L456.70 586.45 L458.20 584.50 L458.20 587.50"/>
<path d="M458.40 587.50 L458.40 584.95 L459.15 584.50 L461.40 584.50 L461.40 587.50"/>
<path d="M458.40 586.00 L461.40 586.00"/>
<path d="M461.60 587.50 L461.60 584.50"/>
<path d="M464.60 584.50 L461.60 586.30"/>
<path d="M462.60 585.70 L464.60 587.50"/>
<path d="M467.80 584.50 L464.80 584.50 L464.80 587.50 L467.80 587.50"/>
<path d="M464.80 586.00 L467.05 586.00"/>
<path d="M472.90 584.50 L474.40 584.50"/>
<path d="M473.65 584.50 L473.65 587.50"/>
<path d="M472.90 587.50 L474.40 587.50"/>
<path d="M473.90 584.50 L476.90 584.50"/>
<path d="M475.40 584.50 L475.40 587.50"/>
<path d="M483.00 584.50 L483.00 587.50 L486.00 587.50"/>
<path d="M488.17 584.50 L485.17 584.50 L485.17 587.50 L488.17 587.50"/>
<path d="M485.17 586.00 L487.42 586.00"/>
<path d="M490.33 584.95 L489.58 584.50 L488.08 584.50 L487.33 584.95 L487.33 585.55 L488.08 586.00 L489.58 586.00 L490.33 586.45 L490.33 587.05 L489.58 587.50 L488.08 587.50 L487.33 587.05"/>
<path d="M492.50 584.95 L491.75 584.50 L490.25 584.50 L489.50 584.95 L489.50 585.55 L490.25 586.00 L491.75 586.00 L492.50 586.45 L492.50 587.05 L491.75 587.50 L490.25 587.50 L489.50 587.05"/>
<path d="M500.10 584.50 L500.10 587.50 L503.10 587.50"/>
<path d="M503.95 584.50 L505.45 584.50"/>
<path d="M504.70 584.50 L504.70 587.50"/>
<path d="M503.95 587.50 L505.45 587.50"/>
<path d="M506.30 587.50 L506.30 584.50"/>
<path d="M509.30 584.50 L506.30 586.30"/>
<path d="M507.30 585.70 L509.30 587.50"/>
<path d="M512.90 584.50 L509.90 584.50 L509.90 587.50 L512.90 587.50"/>
<path d="M509.90 586.00 L512.15 586.00"/>
<path d="M513.50 584.50 L513.50 587.50 L516.50 587.50"/>
<path d="M517.10 584.50 L518.60 585.85 L520.10 584.50"/>
<path d="M518.60 585.85 L518.60 587.50"/>
<path d="M524.60 584.50 L527.60 584.50"/>
<path d="M526.10 584.50 L526.10 587.50"/>
<path d="M527.67 587.50 L527.67 584.50"/>
<path d="M530.67 587.50 L530.67 584.50"/>
<path d="M527.67 586.00 L530.67 586.00"/>
<path d="M530.73 587.50 L530.73 584.95 L531.48 584.50 L533.73 584.50 L533.73 587.50"/>
<path d="M530.73 586.00 L533.73 586.00"/>
<path d="M533.80 584.50 L536.80 584.50"/>
<path d="M535.30 584.50 L535.30 587.50"/>
<path d="M542.80 584.50 L545.80 584.50"/>
<path d="M544.30 584.50 L544.30 587.50"/>
<path d="M545.97 587.50 L545.97 584.50"/>
<path d="M548.97 587.50 L548.97 584.50"/>
<path d="M545.97 586.00 L548.97 586.00"/>
<path d="M552.15 584.50 L549.15 584.50 L549.15 587.50 L552.15 587.50"/>
<path d="M549.15 586.00 L551.40 586.00"/>
<path d="M555.33 584.95 L554.58 584.50 L553.08 584.50 L552.33 584.95 L552.33 585.55 L553.08 586.00 L554.58 586.00 L555.33 586.45 L555.33 587.05 L554.58 587.50 L553.08 587.50 L552.33 587.05"/>
<path d="M558.50 584.50 L555.50 584.50 L555.50 587.50 L558.50 587.50"/>
<path d="M555.50 586.00 L557.75 586.00"/>
<path d="M383.00 590.50 L383.00 593.50 L384.50 592.00 L386.00 593.50 L386.00 590.50"/>
<path d="M386.05 590.50 L387.55 590.50"/>
<path d="M386.80 590.50 L386.80 593.50"/>
<path d="M386.05 593.50 L387.55 593.50"/>
<path d="M387.60 590.50 L387.60 593.50 L390.60 593.50"/>
<path d="M390.40 590.50 L390.40 593.50 L393.40 593.50"/>
<path d="M401.50 590.95 L400.75 590.50 L399.25 590.50 L398.50 590.95 L398.50 591.55 L399.25 592.00 L400.75 592.00 L401.50 592.45 L401.50 593.05 L400.75 593.50 L399.25 593.50 L398.50 593.05"/>
<path d="M401.83 590.50 L401.83 593.50 L403.33 592.00 L404.83 593.50 L404.83 590.50"/>
<path d="M405.17 593.50 L405.17 590.95 L405.92 590.50 L408.17 590.50 L408.17 593.50"/>
<path d="M405.17 592.00 L408.17 592.00"/>
<path d="M408.50 593.50 L408.50 590.50 L410.75 590.50 L411.50 590.95 L411.50 591.55 L410.75 592.00 L408.50 592.00"/>
<path d="M417.15 593.50 L418.65 593.50 L419.40 593.05 L419.40 590.95 L418.65 590.50 L417.15 590.50 L416.40 590.95 L416.40 593.05 L417.15 593.50"/>
<path d="M419.93 590.50 L419.93 593.05 L420.68 593.50 L422.18 593.50 L422.93 593.05 L422.93 590.50"/>
<path d="M423.47 590.50 L426.47 590.50"/>
<path d="M424.97 590.50 L424.97 593.50"/>
<path d="M427.00 593.50 L427.50 593.50 L427.50 593.00 L427.00 593.00 L427.00 593.50"/>
</g>
</g>
</svg>
</body></html>
